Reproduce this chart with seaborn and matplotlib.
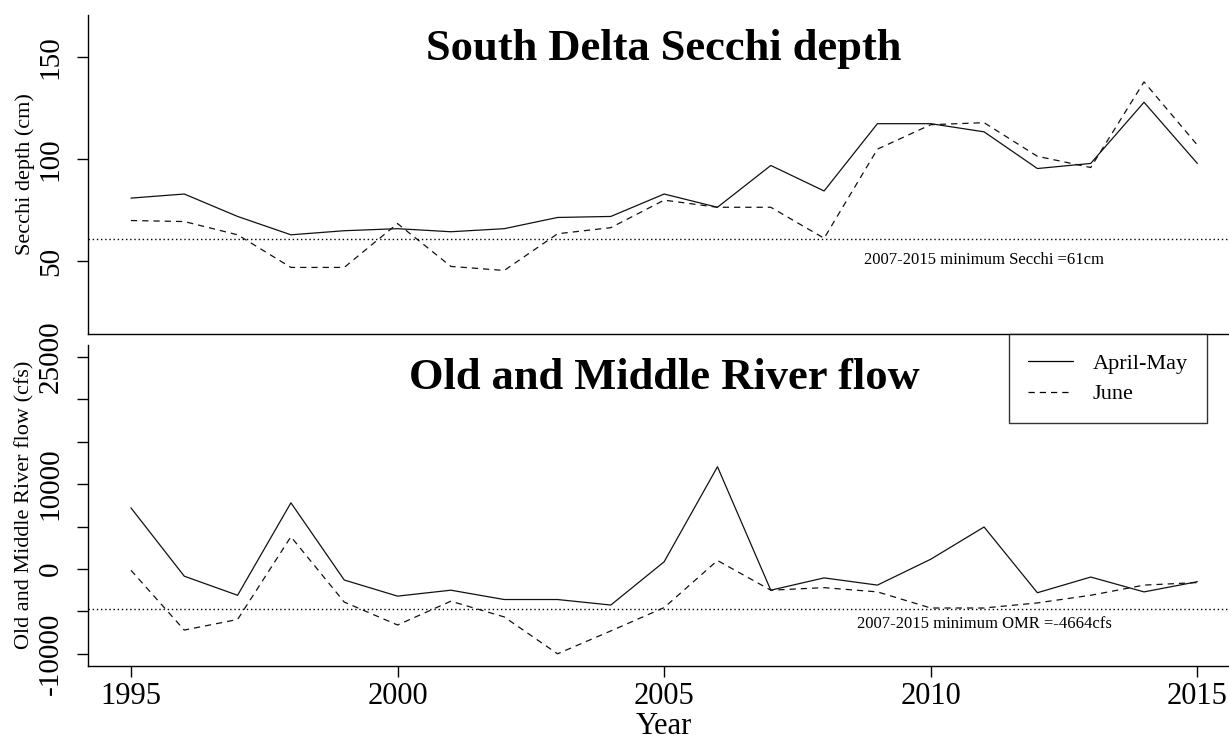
import matplotlib
matplotlib.use("Agg")
import matplotlib.pyplot as plt
import pandas as pd
import seaborn as sns

# --- data ---
years = list(range(1995, 2016))
secchi_aprmay = [81, 83, 72, 63, 65, 66, 64.5, 66, 71.5, 72, 83, 76.5, 97, 84.5,
                 117.5, 117.5, 113.5, 95.5, 98, 128, 98]
secchi_june = [70, 69.5, 63, 47, 47, 68.5, 47.5, 45.5, 63.5, 66.5, 80, 76.5, 76.5, 61.3,
               105, 117, 118, 101.5, 96, 138, 107]
omr_aprmay = [7200, -850, -3100, 7800, -1300, -3200, -2500, -3600, -3600, -4250, 850,
              12050, -2500, -1050, -1900, 1150, 4950, -2800, -950, -2700, -1500]
omr_june = [-150, -7200, -5950, 3800, -3900, -6600, -3800, -5650, -10000, -7300, -4550,
            1000, -2500, -2200, -2700, -4600, -4600, -4000, -3100, -1900, -1600]
periods = ["April-May", "June"]
secchi_min = 61
omr_min = -4664
secchi_ticks = [50, 100, 150]
omr_ticks = [-10000, -5000, 0, 5000, 10000, 15000, 20000, 25000]
omr_ticklabels = ["-10000", "", "0", "", "10000", "", "", "25000"]
year_ticks = [1995, 2000, 2005, 2010, 2015]


def long_df(a, b):
    return pd.DataFrame({
        "Year": years * 2,
        "value": a + b,
        "Period": [periods[0]] * len(years) + [periods[1]] * len(years),
    })


sns.set_theme(style="ticks", rc={"text.color": "black", "axes.labelcolor": "black",
                                 "xtick.color": "black", "ytick.color": "black",
                                 "axes.edgecolor": "black"})
plt.rcParams["font.family"] = ["Liberation Serif", "DejaVu Serif"]

W, H = 1229, 741
fig = plt.figure(figsize=(W / 100, H / 100), dpi=100)

left = 88.3 / W
width = (1240 - 88.3) / W
ax1 = fig.add_axes([left, 1 - 334.3 / H, width, (334.3 - 15) / H])
ax2 = fig.add_axes([left, 1 - 665.7 / H, width, (665.7 - 345) / H])

dash_map = {periods[0]: "", periods[1]: (5, 4)}
line_kw = dict(x="Year", y="value", style="Period", dashes=dash_map,
               color="#111111", lw=0.9)

sns.lineplot(data=long_df(secchi_aprmay, secchi_june), ax=ax1, legend=False, **line_kw)
sns.lineplot(data=long_df(omr_aprmay, omr_june), ax=ax2, legend=True, **line_kw)

for ax in (ax1, ax2):
    ax.set_xlim(1994.2, 2015.8)
    for s in ("top", "right"):
        ax.spines[s].set_visible(False)
    for s in ("left", "bottom"):
        ax.spines[s].set_color("black")
        ax.spines[s].set_linewidth(1.0)
    ax.tick_params(axis="both", direction="out", length=7.6, width=1.0,
                   color="black", labelsize=21, labelcolor="black",
                   left=True, bottom=True)
    ax.tick_params(axis="y", pad=10)
    ax.set_xlabel("")

ax1.axhline(secchi_min, color="black", lw=1.0, ls=(0, (1, 2)))
ax2.axhline(omr_min, color="black", lw=1.0, ls=(0, (1, 2)))

# top panel
ax1.set_ylim(14.2, 170.8)
ax1.set_yticks(secchi_ticks)
ax1.set_xticks([])
ax1.set_ylabel("Secchi depth (cm)", fontsize=16)
ax1.text(2005, 148.7, "South Delta Secchi depth", ha="center", va="baseline",
         fontsize=32, fontweight="bold")
ax1.text(2011, 50.5, "2007-2015 minimum Secchi =61cm", ha="center", va="center",
         fontsize=12)

# bottom panel
ax2.set_ylim(-11400, 26400)
ax2.set_yticks(omr_ticks, omr_ticklabels)
ax2.set_xticks(year_ticks)
ax2.tick_params(axis="x", pad=4, labelsize=22)
ax2.set_ylabel("Old and Middle River flow (cfs)", fontsize=16)
ax2.set_xlabel("Year", fontsize=22)
ax2.text(2005, 21170, "Old and Middle River flow", ha="center", va="baseline",
         fontsize=32, fontweight="bold")
ax2.text(2011, -6460, "2007-2015 minimum OMR =-4664cfs", ha="center", va="center",
         fontsize=12)

for ax in (ax1, ax2):
    for lab in ax.get_yticklabels():
        lab.set_rotation(90)
        lab.set_va("center")
    ax.yaxis.label.set_va("center")
    ax.yaxis.set_label_coords((25 - 88.3) / (width * W), 0.503)

ax2.xaxis.label.set_va("baseline")
ax2.xaxis.set_label_coords(0.5, (665.7 - 734) / (665.7 - 345))

handles, labels = ax2.get_legend_handles_labels()
keep = [(h, l) for h, l in zip(handles, labels) if l in periods]
for h, _ in keep:
    h.set_color("black")
    h.set_linewidth(0.9)
# legend box top sits on the upper panel's bottom axis line, as in the reference
leg = ax2.legend([h for h, _ in keep], [l for _, l in keep],
                 loc="upper right", bbox_to_anchor=(1206.7 / W, 1 - 334.3 / H),
                 bbox_transform=fig.transFigure, borderaxespad=0, fontsize=16,
                 frameon=True, fancybox=False, handlelength=2.0, handletextpad=0.9,
                 borderpad=0.85, labelspacing=0.45)
leg.get_frame().set_edgecolor("black")
leg.get_frame().set_linewidth(1.0)

fig.savefig("out.png", dpi=100)
